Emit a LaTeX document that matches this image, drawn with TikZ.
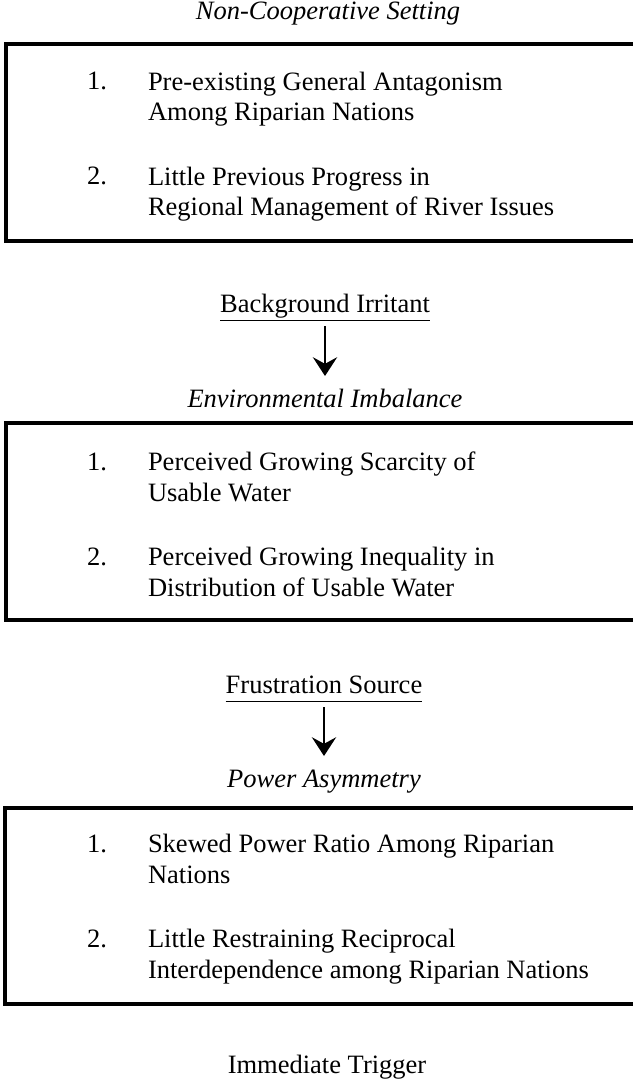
\documentclass[12pt,tikz,border=0pt]{standalone}
\usepackage{fontspec}
\setmainfont{Liberation Serif}
\usetikzlibrary{positioning,calc,arrows.meta}

\begin{document}
\begin{tikzpicture}[x=0.4528pt, y=-0.4528pt,
  every node/.append style={inner sep=0pt, outer sep=0pt},
  box/.style={line width=1.5pt},
  head/.style={anchor=base},
  ital/.style={anchor=base, font=\itshape},
  num/.style={anchor=base west},
  item/.style={anchor=base west, align=left, font=\fontsize{12}{14}\selectfont},
  uline/.style={line width=0.7pt},
  arr/.style={line width=1pt, -{Stealth[length=8.5pt, width=11pt, inset=3pt]}}]
  \useasboundingbox (0,0) rectangle (633,1080);

  \node (setting) [ital] at (328,20) {Non-Cooperative Setting};
  \draw [box] (6,44) rectangle (650,241);
  \node (n11) [num] at (87,90) {1.};
  \node (i11) [item] at (148,121) {Pre-existing General Antagonism\\Among Riparian Nations};
  \node (n12) [num] at (87,185) {2.};
  \node (i12) [item] at (148,216) {Little Previous Progress in\\Regional Management of River Issues};

  \node (irritant) [head] at (325,312) {Background Irritant};
  \draw [uline] ($(irritant.base west)+(0,8.5)$) -- ($(irritant.base east)+(0,8.5)$);
  \node (imbalance) [ital] at (325,407) {Environmental Imbalance};
  \draw [arr] ($(irritant.base)+(0,14)$) -- ($(imbalance.base)+(0,-31)$);
  \draw [box] (6,423) rectangle (650,620);
  \node (n21) [num] at (87,470) {1.};
  \node (i21) [item] at (148,501) {Perceived Growing Scarcity of\\Usable Water};
  \node (n22) [num] at (87,565) {2.};
  \node (i22) [item] at (148,596) {Perceived Growing Inequality in\\Distribution of Usable Water};

  \node (frustration) [head] at (324,693) {Frustration Source};
  \draw [uline] ($(frustration.base west)+(0,8.5)$) -- ($(frustration.base east)+(0,8.5)$);
  \node (asymmetry) [ital] at (324,787) {Power Asymmetry};
  \draw [arr] ($(frustration.base)+(0,14)$) -- ($(asymmetry.base)+(0,-31)$);
  \draw [box] (5,808) rectangle (650,1004);
  \node (n31) [num] at (87,852) {1.};
  \node (i31) [item] at (148,883) {Skewed Power Ratio Among Riparian\\Nations};
  \node (n32) [num] at (87,947) {2.};
  \node (i32) [item] at (148,978) {Little Restraining Reciprocal\\Interdependence among Riparian Nations};

  \node (trigger) [head] at (327,1073) {Immediate Trigger};
\end{tikzpicture}
\end{document}
